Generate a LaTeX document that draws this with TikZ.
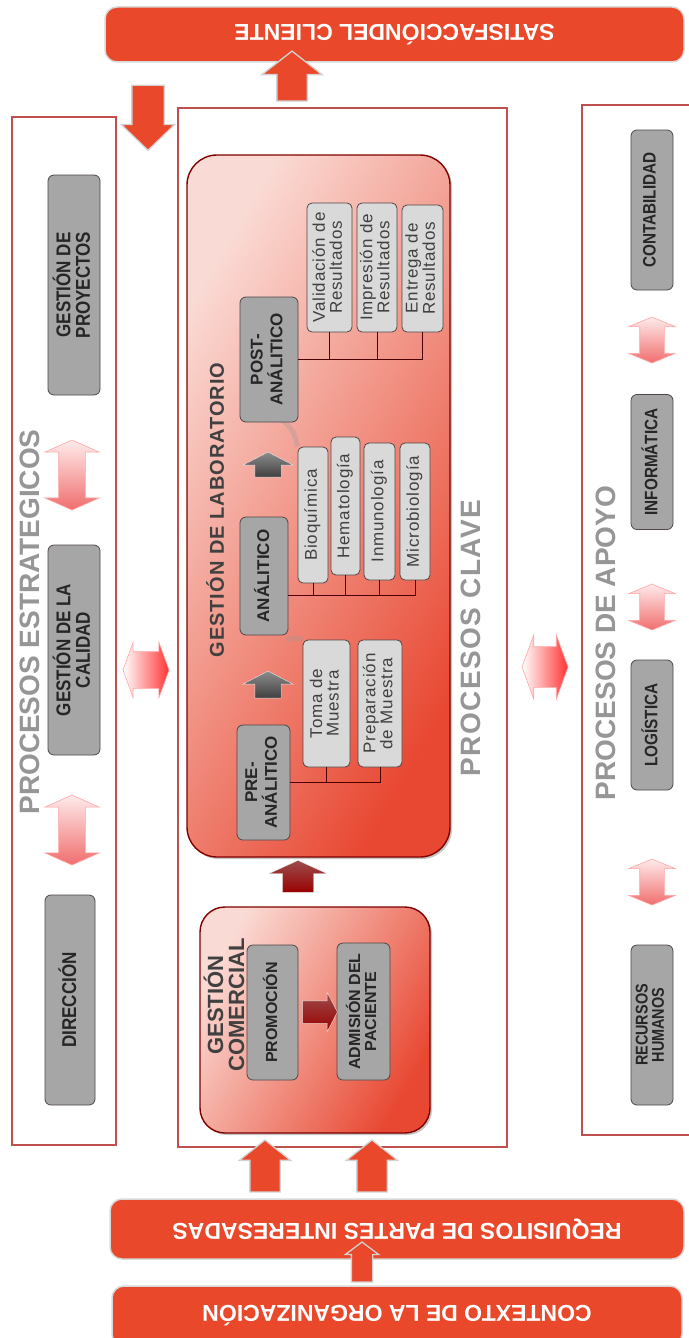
\documentclass[tikz,border=0pt]{standalone}
\usepackage{fontspec}
\setmainfont{Liberation Sans}
\newfontfamily\narrowfont[FakeStretch=0.85]{Liberation Sans}
\newfontfamily\spacedfont[LetterSpace=5]{Liberation Sans}
\usetikzlibrary{shapes.arrows,shadows}

\definecolor{bannerred}{RGB}{233,72,42}
\definecolor{panelred}{RGB}{192,80,77}
\definecolor{titlegray}{RGB}{150,150,150}
\definecolor{boxgray}{RGB}{166,166,166}
\definecolor{subgray}{RGB}{217,217,217}
\definecolor{boxedge}{RGB}{80,70,70}
\definecolor{labpink}{RGB}{250,218,212}
\definecolor{labred}{RGB}{232,72,50}
\definecolor{darktext}{RGB}{64,64,64}
\definecolor{linkpink}{RGB}{240,110,110}

\newcommand{\vtext}[1]{\rotatebox{90}{\begin{tabular}{@{}c@{}}#1\end{tabular}}}

\tikzset{
  panel/.style={draw=panelred, line width=1.6pt, fill=white, inner sep=0pt},
  banner/.style={draw=white!70!gray, line width=1.5pt, fill=bannerred, rounded corners=12pt,
    text=white, inner sep=0pt, rotate=180, font=\bfseries\fontsize{23}{23}\selectfont},
  paneltitle/.style={text=titlegray, rotate=90, font=\bfseries\fontsize{28}{28}\selectfont},
  grouptitle/.style={text=darktext, rotate=90, align=center, font=\spacedfont\bfseries\fontsize{20}{20}\selectfont},
  groupbox/.style={draw=black!50!red, line width=1.4pt, rounded corners=30pt, inner sep=0pt,
    left color=labpink, right color=labred, shading angle=60,
    drop shadow={shadow xshift=2pt, shadow yshift=-2pt, fill=black!45}},
  mainbox/.style={draw=boxedge, fill=boxgray, rounded corners=6pt, line width=0.8pt, inner sep=0pt,
    text=black!85, font=\narrowfont\bfseries\fontsize{20}{18}\selectfont},
  labbox/.style={mainbox, font=\bfseries\fontsize{17}{16}\selectfont},
  subbox/.style={draw=boxedge, fill=subgray, rounded corners=5pt, line width=0.8pt, inner sep=0pt,
    text=black!75, font=\spacedfont\fontsize{17}{16}\selectfont},
  bus/.style={draw=black!70!red, line width=0.8pt},
  swoosh/.style={draw=black!40, line width=5pt, opacity=0.3},
  bigarrow/.style={single arrow, draw=white!65!gray, line width=1.3pt, fill=bannerred, inner xsep=0pt},
  darkarrow/.style={single arrow, inner xsep=0pt, top color=black!45, bottom color=black!75,
    draw=white!80!gray},
  redarrow/.style={single arrow, inner xsep=0pt, top color=red!45!black!70!white, bottom color=red!60!black,
    draw=white!80!gray},
  vlink/.style={double arrow, draw=red!35, line width=0.6pt, inner xsep=0pt,
    top color=red!8, bottom color=linkpink},
  hlink/.style={double arrow, draw=red!35, line width=0.6pt, inner xsep=0pt,
    left color=white, right color=red!80},
}

\begin{document}
\begin{tikzpicture}[x=1pt,y=-1pt]
  \useasboundingbox (0,0) rectangle (688,1338);

  % Paneles
  \node[panel, minimum width=104, minimum height=1028] (estr) at (64,631) {};
  \node[panel, minimum width=329, minimum height=1039] (clave) at (342.5,627.5) {};
  \node[panel, minimum width=110, minimum height=1030] (apoyo) at (637,620) {};

  \node[paneltitle] (estrt) at (30,622) {PROCESOS ESTRATEGICOS};
  \node[paneltitle, font=\spacedfont\bfseries\fontsize{28}{28}\selectfont] (clavet) at (471,638) {PROCESOS CLAVE};
  \node[paneltitle] (apoyot) at (606,643) {PROCESOS DE APOYO};

  % Banners
  \node[banner, minimum width=579, minimum height=55] (sat) at (394.5,34.5) {SATISFACCIÓNDEL CLIENTE};
  \node[banner, minimum width=574, minimum height=60] (req) at (397,1229) {REQUISITOS DE PARTES INTERESADAS};
  \node[banner, minimum width=570, minimum height=60] (ctx) at (397,1316) {CONTEXTO DE LA ORGANIZACIÓN};

  \node[bigarrow, rotate=-90, minimum height=65, inner ysep=15.5pt, single arrow head extend=10.5pt,
    single arrow tip angle=92] (satin) at (148,110) {};
  \node[bigarrow, rotate=90, minimum height=50, inner ysep=14.5pt, single arrow head extend=15pt,
    single arrow tip angle=104] (satout) at (292,82) {};
  \node[bigarrow, rotate=90, minimum height=52, inner ysep=14.5pt, single arrow head extend=10.5pt,
    single arrow tip angle=103] (reqa) at (265,1172) {};
  \node[bigarrow, rotate=90, minimum height=52, inner ysep=14.5pt, single arrow head extend=10.5pt,
    single arrow tip angle=103] (reqb) at (372,1172) {};
  \node[bigarrow, rotate=90, minimum height=40, inner ysep=10pt, single arrow head extend=6pt,
    single arrow tip angle=106] (ctxa) at (362,1266) {};

  % Estrategicos
  \node[mainbox, minimum width=50, minimum height=210] (dir) at (70,1000) {\vtext{DIRECCIÓN}};
  \node[mainbox, minimum width=52, minimum height=210] (cal) at (74,650) {\vtext{GESTIÓN DE LA\\CALIDAD}};
  \node[mainbox, minimum width=52, minimum height=220] (proy) at (74,285) {\vtext{GESTIÓN DE\\PROYECTOS}};
  \node[vlink, rotate=90, minimum height=70, inner ysep=13pt, double arrow head extend=14pt,
    double arrow tip angle=132] (l1) at (72,830) {};
  \node[vlink, rotate=90, minimum height=70, inner ysep=13pt, double arrow head extend=14pt,
    double arrow tip angle=132] (l2) at (72,475) {};
  \node[hlink, minimum height=46, inner ysep=18pt, double arrow head extend=9.5pt,
    double arrow tip angle=140] (l3) at (146,670) {};

  % Apoyo
  \node[mainbox, minimum width=42, minimum height=160, font=\narrowfont\bfseries\fontsize{17}{15}\selectfont] (rrhh) at (652,1025) {\vtext{RECURSOS\\HUMANOS}};
  \node[mainbox, minimum width=42, minimum height=130, font=\narrowfont\bfseries\fontsize{18}{17}\selectfont] (logi) at (652,725) {\vtext{LOGÍSTICA}};
  \node[mainbox, minimum width=42, minimum height=135, font=\narrowfont\bfseries\fontsize{18}{17}\selectfont] (info) at (652,462) {\vtext{INFORMÁTICA}};
  \node[mainbox, minimum width=42, minimum height=160, font=\narrowfont\bfseries\fontsize{18}{17}\selectfont] (cont) at (652,210) {\vtext{CONTABILIDAD}};
  \node[vlink, rotate=90, minimum height=46, inner ysep=12pt, double arrow head extend=11pt,
    double arrow tip angle=135] (l4) at (652,882) {};
  \node[vlink, rotate=90, minimum height=46, inner ysep=12pt, double arrow head extend=11pt,
    double arrow tip angle=135] (l5) at (652,607) {};
  \node[vlink, rotate=90, minimum height=46, inner ysep=12pt, double arrow head extend=11pt,
    double arrow tip angle=135] (l6) at (652,340) {};
  \node[hlink, minimum height=46, inner ysep=20pt, double arrow head extend=12pt,
    double arrow tip angle=140] (l7) at (545,667) {};

  % Gestion de laboratorio
  \node[groupbox, minimum width=263, minimum height=702] (lab) at (318.5,506) {};
  \node[grouptitle] (labt) at (215,510) {GESTIÓN DE LABORATORIO};

  \node[labbox, minimum width=53, minimum height=115] (pre) at (263.5,782.5) {\vtext{PRE-\\ANÁLITICO}};
  \node[subbox, minimum width=47, minimum height=127] (toma) at (326.5,703.5) {\vtext{Toma de\\Muestra}};
  \node[subbox, minimum width=44, minimum height=127] (prep) at (380,703.5) {\vtext{Preparación\\de Muestra}};
  \draw[bus] (pre.east) -| (prep.south);
  \draw[bus] (toma.south) -- (toma.south |- pre.east);

  \draw[swoosh] (toma.north west) to[bend right=20] ([xshift=-4pt]pre.north east |- 0,640);
  \node[darkarrow, rotate=90, minimum height=27, inner ysep=13pt, single arrow head extend=12pt,
    single arrow tip angle=125] (a1) at (268,688) {};

  \node[labbox, minimum width=48, minimum height=118] (ana) at (264,576) {\vtext{ANÁLITICO}};
  \node[subbox, minimum width=30, minimum height=136] (bio) at (313,515) {\vtext{Bioquímica}};
  \node[subbox, minimum width=29, minimum height=138] (hema) at (345.5,506) {\vtext{Hematología}};
  \node[subbox, minimum width=31, minimum height=137] (inmu) at (379.5,511.5) {\vtext{Inmunología}};
  \node[subbox, minimum width=30, minimum height=137] (micro) at (415,511.5) {\vtext{Microbiología}};
  \coordinate (anabus) at ([yshift=-19pt]ana.east);
  \draw[bus] (anabus) -| (micro.south);
  \foreach \b in {bio,hema,inmu}
    \draw[bus] (\b.south) -- (\b.south |- anabus);

  \draw[swoosh] (bio.north west) to[bend right=20] ([xshift=-6pt]ana.north east |- 0,420);
  \node[darkarrow, rotate=90, minimum height=25, inner ysep=13pt, single arrow head extend=12pt,
    single arrow tip angle=125] (a2) at (268,468) {};

  \node[labbox, minimum width=58, minimum height=125] (post) at (269,359.5) {\vtext{POST-\\ANÁLITICO}};
  \node[subbox, minimum width=45, minimum height=129] (vali) at (329.5,267.5) {\vtext{Validación de\\Resultados}};
  \node[subbox, minimum width=40, minimum height=129] (impr) at (377,267.5) {\vtext{Impresión de\\Resultados}};
  \node[subbox, minimum width=41, minimum height=127] (entr) at (422.5,268.5) {\vtext{Entrega de\\Resultados}};
  \draw[bus] (post.east) -| (entr.south);
  \foreach \b in {vali,impr}
    \draw[bus] (\b.south) -- (\b.south |- post.east);

  % Gestion comercial
  \node[redarrow, rotate=90, minimum height=32, inner ysep=15.5pt, single arrow head extend=13pt,
    single arrow tip angle=131] (a3) at (298,880) {};
  \node[groupbox, rounded corners=25pt, minimum width=230, minimum height=226] (com) at (315,1020) {};
  \node[grouptitle, font=\bfseries\fontsize{22}{21}\selectfont] (comt) at (224,1005) {GESTIÓN\\COMERCIAL};
  \node[labbox, minimum width=51, minimum height=135, font=\bfseries\fontsize{16}{16}\selectfont] (prom) at (272.5,1012.5) {\vtext{PROMOCIÓN}};
  \node[labbox, minimum width=53, minimum height=137, font=\bfseries\fontsize{16}{16}\selectfont] (adm) at (363.5,1011.5) {\vtext{ADMISIÓN DEL\\PACIENTE}};
  \node[redarrow, minimum height=35, inner ysep=11pt, single arrow head extend=8.5pt,
    single arrow tip angle=125] (a4) at (317,1012) {};

\end{tikzpicture}
\end{document}
